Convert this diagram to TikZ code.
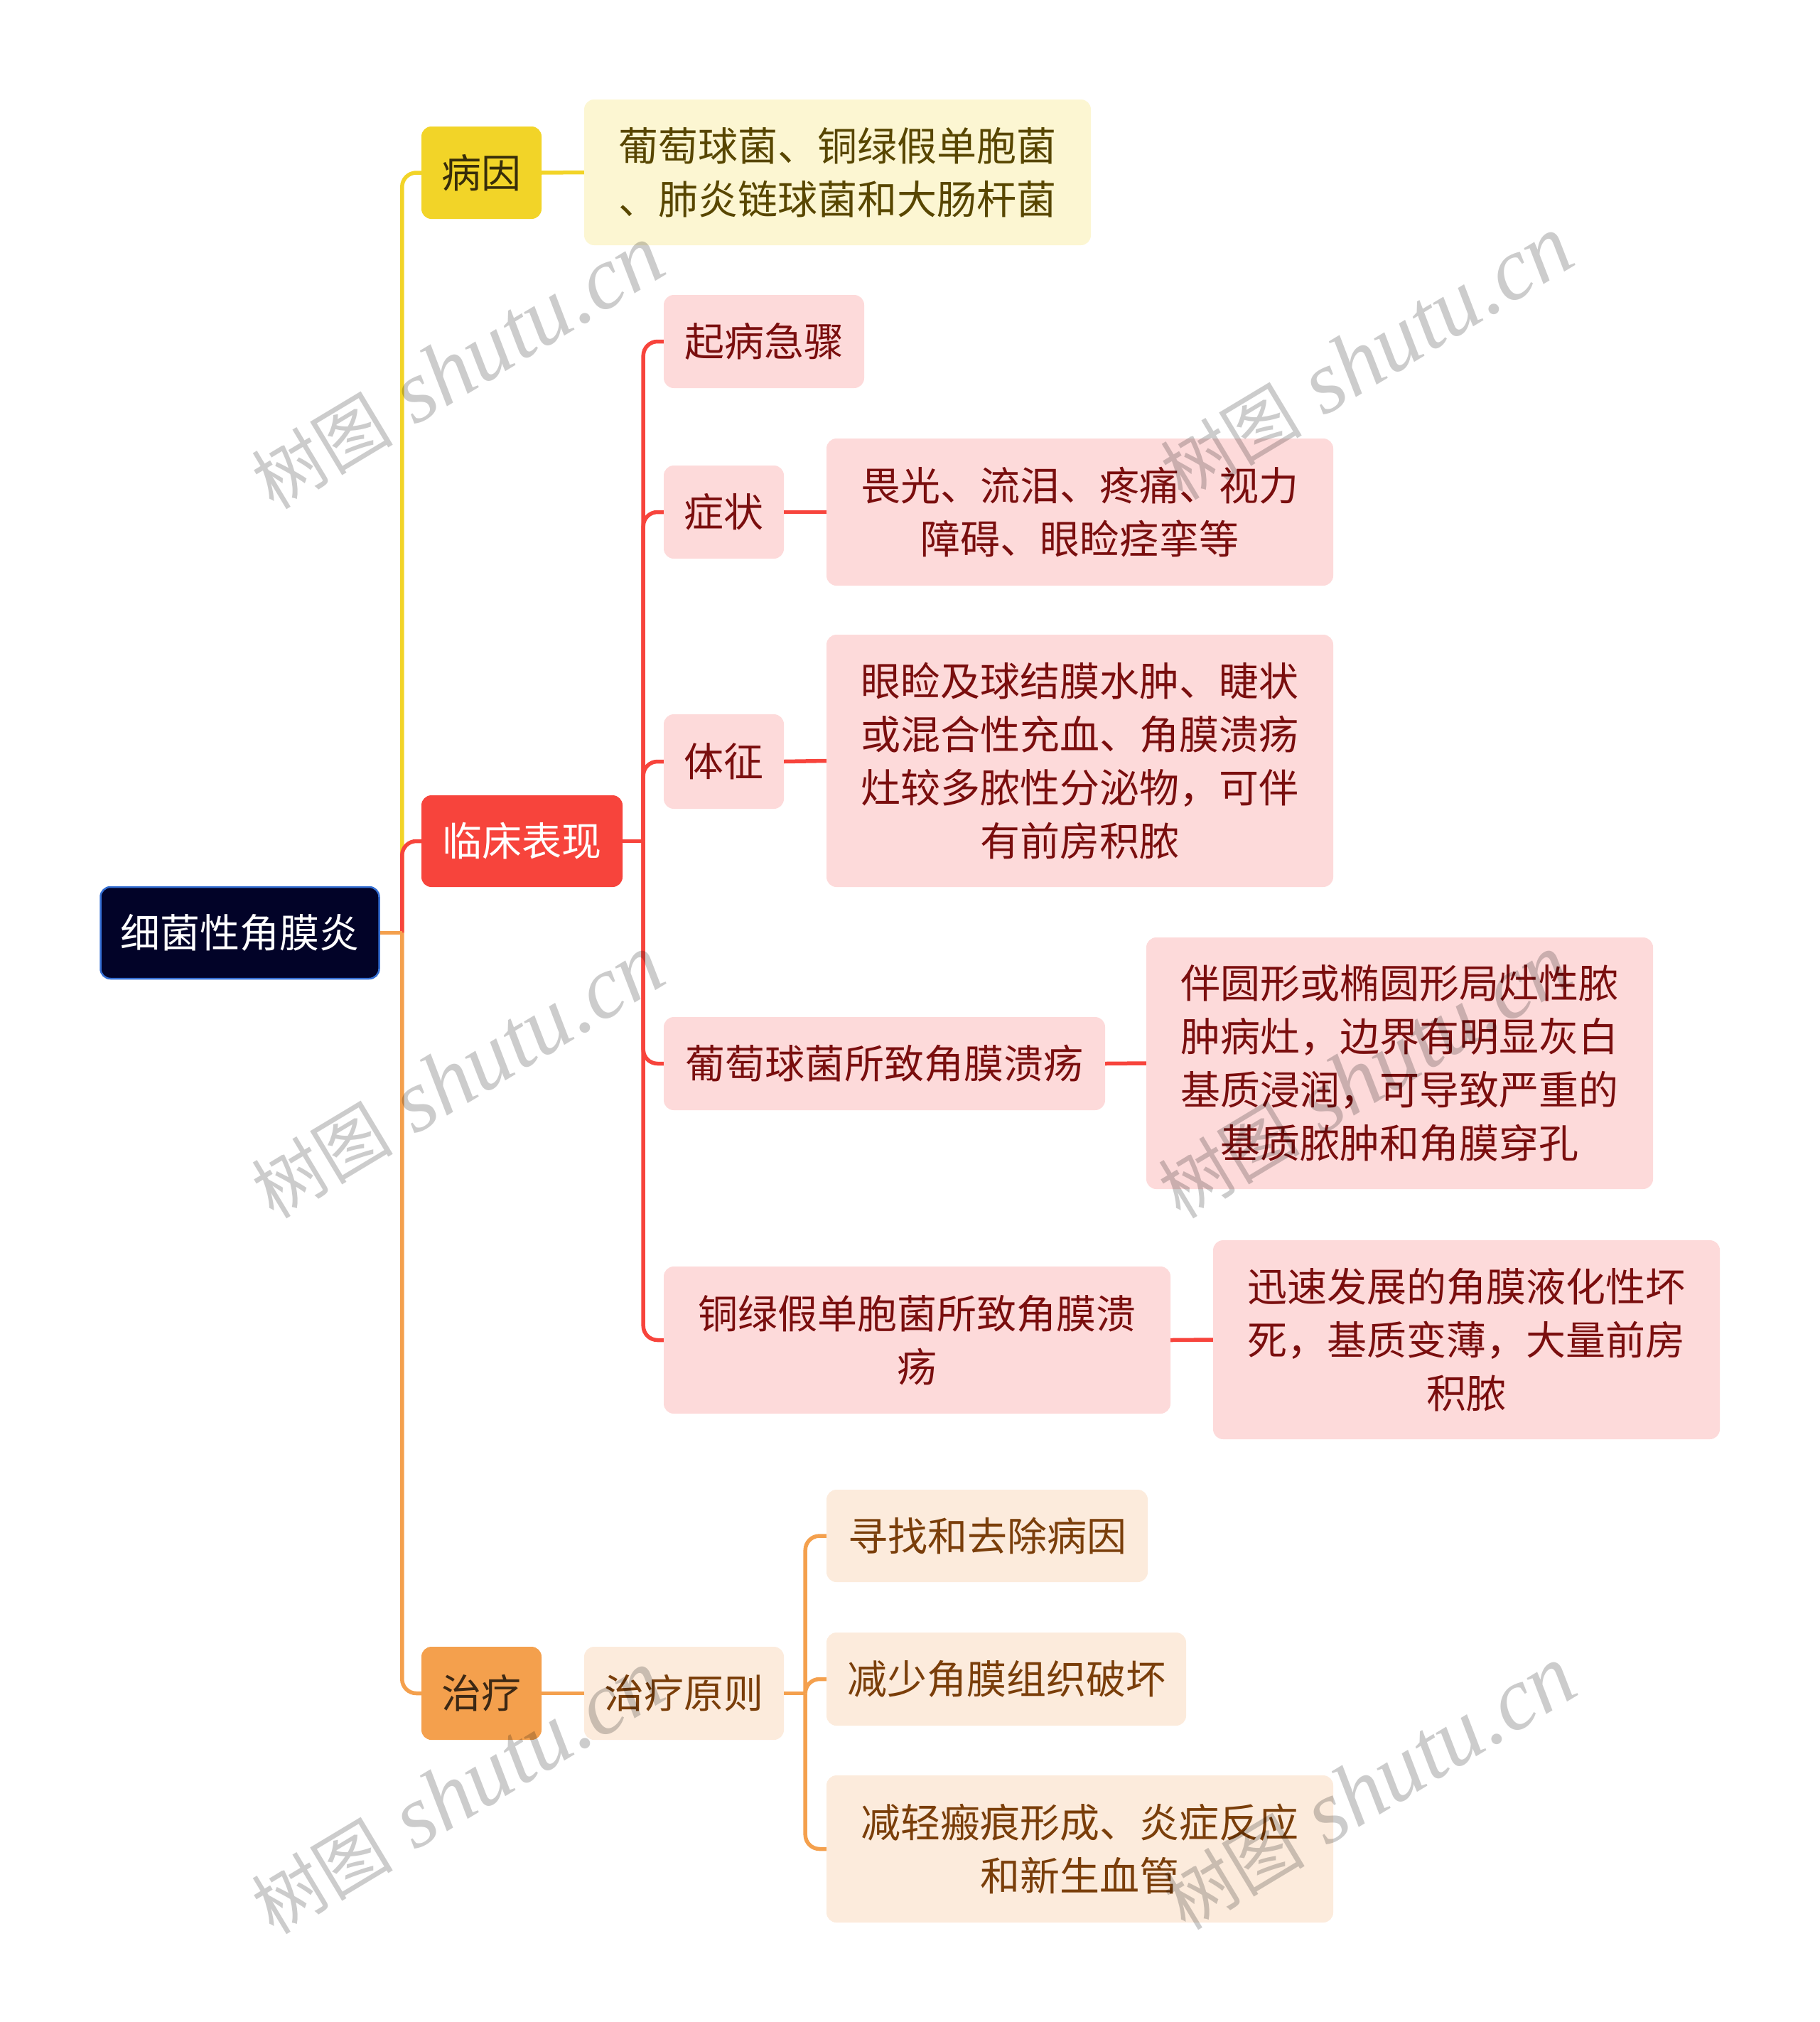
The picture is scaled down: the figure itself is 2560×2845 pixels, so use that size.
\documentclass[tikz,border=0pt]{standalone}
\usepackage{fontspec}
\setmainfont{Noto Sans CJK SC}
\newfontfamily\wmlatin{Liberation Serif}
\newfontfamily\wmcjk{Noto Sans CJK SC}
\usetikzlibrary{calc}
\definecolor{rootfill}{RGB}{2,3,40}
\definecolor{rootdraw}{RGB}{52,110,210}
\definecolor{ylwmain}{RGB}{242,212,40}
\definecolor{ylwleaf}{RGB}{252,246,210}
\definecolor{ylwtext}{RGB}{88,70,0}
\definecolor{ylwdark}{RGB}{55,45,10}
\definecolor{redmain}{RGB}{247,68,60}
\definecolor{redleaf}{RGB}{253,218,218}
\definecolor{redtext}{RGB}{122,14,14}
\definecolor{orgmain}{RGB}{244,160,77}
\definecolor{orgleaf}{RGB}{252,235,220}
\definecolor{orgtext}{RGB}{122,62,10}
\definecolor{orgdark}{RGB}{60,40,20}
\tikzset{
  basebox/.style={rounded corners=14pt, inner sep=0pt, align=center, font=\fontsize{56}{75}\selectfont},
  rootbox/.style={basebox, fill=rootfill, draw=rootdraw, line width=2.5pt, text=white},
  ylwhead/.style={basebox, fill=ylwmain, text=ylwdark},
  ylwbox/.style={basebox, fill=ylwleaf, text=ylwtext},
  redhead/.style={basebox, fill=redmain, text=white},
  redbox/.style={basebox, fill=redleaf, text=redtext},
  orghead/.style={basebox, fill=orgmain, text=orgdark},
  orgbox/.style={basebox, fill=orgleaf, text=orgtext},
  ylwline/.style={draw=ylwmain, line width=5.5pt, rounded corners=20pt},
  redline/.style={draw=redmain, line width=5.5pt, rounded corners=20pt},
  orgline/.style={draw=orgmain, line width=5.5pt, rounded corners=20pt},
  wm/.style={text=black, text opacity=0.2, rotate=31, inner sep=0pt}
}
\begin{document}
\begin{tikzpicture}[x=1pt,y=-1pt]
\useasboundingbox (0,0) rectangle (2560,2845);
% nodes
\node[rootbox, minimum width=392pt, minimum height=129pt] (root) at (337.5,1312.5) {细菌性角膜炎};
\node[ylwhead, minimum width=169pt, minimum height=130pt] (c1) at (677.5,243) {病因};
\node[ylwbox, minimum width=713pt, minimum height=205pt] (c1a) at (1178.5,242.5) {葡萄球菌、铜绿假单胞菌\\、肺炎链球菌和大肠杆菌};
\node[redhead, minimum width=283pt, minimum height=129pt] (c2) at (734.5,1183.5) {临床表现};
\node[redbox, minimum width=282pt, minimum height=131pt] (k1) at (1075,480.5) {起病急骤};
\node[redbox, minimum width=169pt, minimum height=131pt] (k2) at (1018.5,720.5) {症状};
\node[redbox, minimum width=713pt, minimum height=207pt] (k2a) at (1519.5,720.5) {畏光、流泪、疼痛、视力\\障碍、眼睑痉挛等};
\node[redbox, minimum width=169pt, minimum height=133pt] (k3) at (1018.5,1071.5) {体征};
\node[redbox, minimum width=713pt, minimum height=355pt] (k3a) at (1519.5,1070.5) {眼睑及球结膜水肿、睫状\\或混合性充血、角膜溃疡\\灶较多脓性分泌物，可伴\\有前房积脓};
\node[redbox, minimum width=621pt, minimum height=131pt] (k4) at (1244.5,1496.5) {葡萄球菌所致角膜溃疡};
\node[redbox, minimum width=713pt, minimum height=354pt] (k4a) at (1969.5,1496) {伴圆形或椭圆形局灶性脓\\肿病灶，边界有明显灰白\\基质浸润，可导致严重的\\基质脓肿和角膜穿孔};
\node[redbox, minimum width=713pt, minimum height=207pt] (k5) at (1290.5,1885.5) {铜绿假单胞菌所致角膜溃\\疡};
\node[redbox, minimum width=713pt, minimum height=280pt] (k5a) at (2063.5,1885) {迅速发展的角膜液化性坏\\死，基质变薄，大量前房\\积脓};
\node[orghead, minimum width=169pt, minimum height=131pt] (c3) at (677.5,2382.5) {治疗};
\node[orgbox, minimum width=281pt, minimum height=131pt] (t1) at (962.5,2382.5) {治疗原则};
\node[orgbox, minimum width=452pt, minimum height=130pt] (t2) at (1389,2161) {寻找和去除病因};
\node[orgbox, minimum width=506pt, minimum height=131pt] (t3) at (1416,2362.5) {减少角膜组织破坏};
\node[orgbox, minimum width=713pt, minimum height=207pt] (t4) at (1519.5,2601.5) {减轻瘢痕形成、炎症反应\\和新生血管};
% junctions
\coordinate (rj) at ($(root.east)+(31,0)$);
\coordinate (kj) at ($(c2.east)+(29,0)$);
\coordinate (tj) at ($(t1.east)+(30,0)$);
% connectors
\draw[ylwline] (rj) |- (c1.west);
\draw[redline] (rj) |- (c2.west);
\draw[orgline] (rj) |- (c3.west);
\draw[orgline] (root.east) -- (rj);
\draw[ylwline] (c1.east) -- (c1a.west);
\draw[redline] (c2.east) -- (kj);
\draw[redline] (kj) |- (k1.west);
\draw[redline] (kj) |- (k2.west);
\draw[redline] (kj) |- (k3.west);
\draw[redline] (kj) |- (k4.west);
\draw[redline] (kj) |- (k5.west);
\draw[redline] (k2.east) -- (k2a.west);
\draw[redline] (k3.east) -- (k3a.west);
\draw[redline] (k4.east) -- (k4a.west);
\draw[redline] (k5.east) -- (k5a.west);
\draw[orgline] (c3.east) -- (t1.west);
\draw[orgline] (t1.east) -- (tj);
\draw[orgline] (tj) |- (t2.west);
\draw[orgline] (tj) |- (t3.west);
\draw[orgline] (tj) |- (t4.west);
% watermarks
\foreach \n/\px/\py in {w1/644/517, w2/1923/504, w3/644/1515, w4/1920/1515, w5/644/2522, w6/1927/2516}{
  \node[wm] (\n) at (\px,\py) {\wmcjk\fontsize{100}{100}\selectfont 树图\wmlatin\itshape\fontsize{125}{125}\selectfont\ shutu.cn};
}
\end{tikzpicture}
\end{document}
